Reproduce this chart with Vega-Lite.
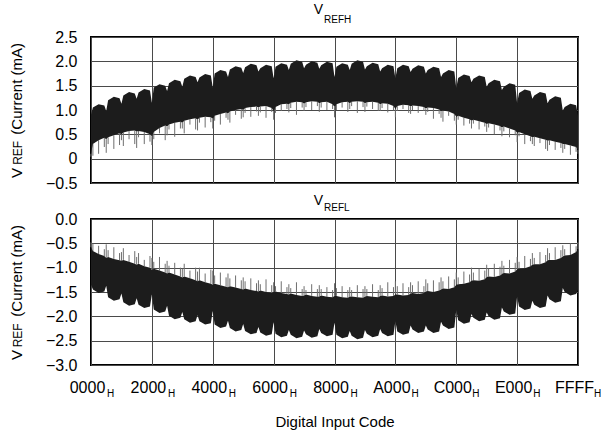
{
  "$schema": "https://vega.github.io/schema/vega-lite/v6.json",
  "background": "white",
  "padding": {"left": 8, "top": 1, "right": 0, "bottom": 0},
  "spacing": 1,
  "config": {
    "font": "Liberation Sans",
    "view": {"stroke": "#000000", "strokeWidth": 2},
    "axis": {
      "grid": true, "gridColor": "#4a4a4a", "gridWidth": 1, "gridOpacity": 1,
      "domain": false, "ticks": false, "labelOverlap": false,
      "labelFont": "Liberation Sans", "labelFontSize": 16, "labelColor": "#000000",
      "titleFont": "Liberation Sans", "titleFontSize": 15, "titleFontWeight": "normal", "titleColor": "#000000"
    },
    "title": {"font": "Liberation Sans", "fontSize": 14, "fontWeight": "normal", "color": "#000000", "frame": "group", "anchor": "middle"}
  },
  "datasets": {
    "vref": [
      {"code": 0, "hHi": 0.90, "hLo": 0.10, "hSpike": 0.04, "lHi": -0.58, "lLo": -1.35, "lSpike": -0.48},
      {"code": 256, "hHi": 1.05, "hLo": 0.30, "hSpike": 0.06, "lHi": -0.66, "lLo": -1.45, "lSpike": -0.50},
      {"code": 1024, "hHi": 1.12, "hLo": 0.38, "hSpike": 0.10, "lHi": -0.72, "lLo": -1.52, "lSpike": -0.55},
      {"code": 1792, "hHi": 1.09, "hLo": 0.43, "hSpike": 0.24, "lHi": -0.76, "lLo": -1.49, "lSpike": -0.62},
      {"code": 2048, "hHi": 0.98, "hLo": 0.40, "hSpike": 0.12, "lHi": -0.80, "lLo": -1.37, "lSpike": -0.52},
      {"code": 2304, "hHi": 1.20, "hLo": 0.44, "hSpike": 0.30, "lHi": -0.78, "lLo": -1.61, "lSpike": -0.64},
      {"code": 3072, "hHi": 1.27, "hLo": 0.48, "hSpike": 0.20, "lHi": -0.82, "lLo": -1.68, "lSpike": -0.58},
      {"code": 3840, "hHi": 1.24, "hLo": 0.52, "hSpike": 0.28, "lHi": -0.85, "lLo": -1.65, "lSpike": -0.70},
      {"code": 4096, "hHi": 1.13, "hLo": 0.50, "hSpike": 0.38, "lHi": -0.86, "lLo": -1.53, "lSpike": -0.68},
      {"code": 4352, "hHi": 1.30, "hLo": 0.54, "hSpike": 0.26, "lHi": -0.84, "lLo": -1.71, "lSpike": -0.60},
      {"code": 5120, "hHi": 1.37, "hLo": 0.57, "hSpike": 0.40, "lHi": -0.88, "lLo": -1.78, "lSpike": -0.74},
      {"code": 5888, "hHi": 1.34, "hLo": 0.58, "hSpike": 0.30, "lHi": -0.92, "lLo": -1.75, "lSpike": -0.66},
      {"code": 6144, "hHi": 1.23, "hLo": 0.56, "hSpike": 0.22, "lHi": -0.94, "lLo": -1.63, "lSpike": -0.78},
      {"code": 6400, "hHi": 1.36, "hLo": 0.57, "hSpike": 0.44, "lHi": -0.92, "lLo": -1.76, "lSpike": -0.70},
      {"code": 7168, "hHi": 1.43, "hLo": 0.55, "hSpike": 0.30, "lHi": -0.97, "lLo": -1.83, "lSpike": -0.84},
      {"code": 7936, "hHi": 1.40, "hLo": 0.50, "hSpike": 0.35, "lHi": -1.00, "lLo": -1.80, "lSpike": -0.76},
      {"code": 8192, "hHi": 1.15, "hLo": 0.46, "hSpike": 0.28, "lHi": -1.05, "lLo": -1.55, "lSpike": -0.80},
      {"code": 8448, "hHi": 1.46, "hLo": 0.55, "hSpike": 0.40, "lHi": -1.02, "lLo": -1.86, "lSpike": -0.88},
      {"code": 9216, "hHi": 1.53, "hLo": 0.63, "hSpike": 0.52, "lHi": -1.06, "lLo": -1.93, "lSpike": -0.78},
      {"code": 9984, "hHi": 1.50, "hLo": 0.68, "hSpike": 0.38, "lHi": -1.10, "lLo": -1.90, "lSpike": -0.92},
      {"code": 10240, "hHi": 1.39, "hLo": 0.66, "hSpike": 0.48, "lHi": -1.12, "lLo": -1.78, "lSpike": -0.86},
      {"code": 10496, "hHi": 1.55, "hLo": 0.70, "hSpike": 0.60, "lHi": -1.10, "lLo": -1.99, "lSpike": -0.96},
      {"code": 11264, "hHi": 1.62, "hLo": 0.74, "hSpike": 0.45, "lHi": -1.14, "lLo": -2.06, "lSpike": -0.90},
      {"code": 12032, "hHi": 1.59, "hLo": 0.76, "hSpike": 0.62, "lHi": -1.18, "lLo": -2.03, "lSpike": -1.00},
      {"code": 12288, "hHi": 1.48, "hLo": 0.74, "hSpike": 0.62, "lHi": -1.20, "lLo": -1.91, "lSpike": -1.02},
      {"code": 12544, "hHi": 1.64, "hLo": 0.78, "hSpike": 0.52, "lHi": -1.18, "lLo": -2.06, "lSpike": -0.92},
      {"code": 13312, "hHi": 1.71, "hLo": 0.81, "hSpike": 0.70, "lHi": -1.22, "lLo": -2.13, "lSpike": -1.06},
      {"code": 14080, "hHi": 1.68, "hLo": 0.83, "hSpike": 0.60, "lHi": -1.26, "lLo": -2.10, "lSpike": -1.00},
      {"code": 14336, "hHi": 1.57, "hLo": 0.80, "hSpike": 0.58, "lHi": -1.28, "lLo": -1.98, "lSpike": -1.08},
      {"code": 14592, "hHi": 1.67, "hLo": 0.84, "hSpike": 0.74, "lHi": -1.26, "lLo": -2.10, "lSpike": -1.00},
      {"code": 15360, "hHi": 1.74, "hLo": 0.86, "hSpike": 0.64, "lHi": -1.30, "lLo": -2.17, "lSpike": -1.12},
      {"code": 16128, "hHi": 1.71, "hLo": 0.85, "hSpike": 0.75, "lHi": -1.33, "lLo": -2.14, "lSpike": -1.04},
      {"code": 16384, "hHi": 1.46, "hLo": 0.82, "hSpike": 0.62, "lHi": -1.35, "lLo": -1.89, "lSpike": -1.06},
      {"code": 16640, "hHi": 1.75, "hLo": 0.88, "hSpike": 0.78, "lHi": -1.33, "lLo": -2.17, "lSpike": -1.16},
      {"code": 17408, "hHi": 1.82, "hLo": 0.92, "hSpike": 0.70, "lHi": -1.36, "lLo": -2.24, "lSpike": -1.10},
      {"code": 18176, "hHi": 1.79, "hLo": 0.95, "hSpike": 0.84, "lHi": -1.39, "lLo": -2.21, "lSpike": -1.20},
      {"code": 18432, "hHi": 1.68, "hLo": 0.93, "hSpike": 0.80, "lHi": -1.40, "lLo": -2.09, "lSpike": -1.12},
      {"code": 18688, "hHi": 1.83, "hLo": 0.97, "hSpike": 0.74, "lHi": -1.38, "lLo": -2.24, "lSpike": -1.22},
      {"code": 19456, "hHi": 1.90, "hLo": 1.00, "hSpike": 0.90, "lHi": -1.41, "lLo": -2.31, "lSpike": -1.16},
      {"code": 20224, "hHi": 1.87, "hLo": 1.02, "hSpike": 0.82, "lHi": -1.44, "lLo": -2.28, "lSpike": -1.26},
      {"code": 20480, "hHi": 1.76, "hLo": 1.00, "hSpike": 0.85, "lHi": -1.45, "lLo": -2.16, "lSpike": -1.20},
      {"code": 20736, "hHi": 1.88, "hLo": 1.04, "hSpike": 0.94, "lHi": -1.43, "lLo": -2.30, "lSpike": -1.28},
      {"code": 21504, "hHi": 1.95, "hLo": 1.06, "hSpike": 0.86, "lHi": -1.46, "lLo": -2.37, "lSpike": -1.22},
      {"code": 22272, "hHi": 1.92, "hLo": 1.07, "hSpike": 0.97, "lHi": -1.48, "lLo": -2.34, "lSpike": -1.32},
      {"code": 22528, "hHi": 1.79, "hLo": 1.05, "hSpike": 0.88, "lHi": -1.49, "lLo": -2.22, "lSpike": -1.26},
      {"code": 22784, "hHi": 1.86, "hLo": 1.07, "hSpike": 0.95, "lHi": -1.47, "lLo": -2.33, "lSpike": -1.34},
      {"code": 23552, "hHi": 1.93, "hLo": 1.08, "hSpike": 0.84, "lHi": -1.50, "lLo": -2.40, "lSpike": -1.24},
      {"code": 24320, "hHi": 1.90, "hLo": 1.04, "hSpike": 0.96, "lHi": -1.52, "lLo": -2.37, "lSpike": -1.36},
      {"code": 24576, "hHi": 1.65, "hLo": 0.98, "hSpike": 0.80, "lHi": -1.50, "lLo": -2.12, "lSpike": -1.30},
      {"code": 24832, "hHi": 1.89, "hLo": 1.06, "hSpike": 0.94, "lHi": -1.49, "lLo": -2.36, "lSpike": -1.38},
      {"code": 25600, "hHi": 1.96, "hLo": 1.12, "hSpike": 0.98, "lHi": -1.52, "lLo": -2.43, "lSpike": -1.28},
      {"code": 26368, "hHi": 1.93, "hLo": 1.13, "hSpike": 1.02, "lHi": -1.54, "lLo": -2.40, "lSpike": -1.40},
      {"code": 26624, "hHi": 1.82, "hLo": 1.12, "hSpike": 0.95, "lHi": -1.55, "lLo": -2.28, "lSpike": -1.34},
      {"code": 26880, "hHi": 1.95, "hLo": 1.15, "hSpike": 1.04, "lHi": -1.53, "lLo": -2.38, "lSpike": -1.42},
      {"code": 27648, "hHi": 2.02, "hLo": 1.17, "hSpike": 0.90, "lHi": -1.56, "lLo": -2.45, "lSpike": -1.30},
      {"code": 28416, "hHi": 1.99, "hLo": 1.16, "hSpike": 1.05, "lHi": -1.58, "lLo": -2.42, "lSpike": -1.44},
      {"code": 28672, "hHi": 1.86, "hLo": 1.13, "hSpike": 0.98, "lHi": -1.57, "lLo": -2.29, "lSpike": -1.38},
      {"code": 28928, "hHi": 1.93, "hLo": 1.16, "hSpike": 1.06, "lHi": -1.55, "lLo": -2.37, "lSpike": -1.46},
      {"code": 29696, "hHi": 2.00, "hLo": 1.18, "hSpike": 1.00, "lHi": -1.58, "lLo": -2.44, "lSpike": -1.34},
      {"code": 30464, "hHi": 1.97, "hLo": 1.17, "hSpike": 1.08, "lHi": -1.60, "lLo": -2.41, "lSpike": -1.44},
      {"code": 30720, "hHi": 1.85, "hLo": 1.14, "hSpike": 0.96, "lHi": -1.59, "lLo": -2.26, "lSpike": -1.36},
      {"code": 30976, "hHi": 1.92, "hLo": 1.16, "hSpike": 1.05, "lHi": -1.57, "lLo": -2.34, "lSpike": -1.44},
      {"code": 31744, "hHi": 1.99, "hLo": 1.17, "hSpike": 1.00, "lHi": -1.60, "lLo": -2.41, "lSpike": -1.40},
      {"code": 32512, "hHi": 1.96, "hLo": 1.12, "hSpike": 1.02, "lHi": -1.61, "lLo": -2.38, "lSpike": -1.46},
      {"code": 32768, "hHi": 1.68, "hLo": 1.06, "hSpike": 0.85, "lHi": -1.58, "lLo": -2.13, "lSpike": -1.32},
      {"code": 33024, "hHi": 1.89, "hLo": 1.12, "hSpike": 1.00, "lHi": -1.58, "lLo": -2.38, "lSpike": -1.42},
      {"code": 33792, "hHi": 1.96, "hLo": 1.16, "hSpike": 1.05, "lHi": -1.61, "lLo": -2.45, "lSpike": -1.38},
      {"code": 34560, "hHi": 1.93, "hLo": 1.17, "hSpike": 0.96, "lHi": -1.62, "lLo": -2.42, "lSpike": -1.46},
      {"code": 34816, "hHi": 1.82, "hLo": 1.14, "hSpike": 1.02, "lHi": -1.60, "lLo": -2.30, "lSpike": -1.40},
      {"code": 35072, "hHi": 1.95, "hLo": 1.17, "hSpike": 1.08, "lHi": -1.59, "lLo": -2.40, "lSpike": -1.46},
      {"code": 35840, "hHi": 2.02, "hLo": 1.18, "hSpike": 0.94, "lHi": -1.61, "lLo": -2.47, "lSpike": -1.36},
      {"code": 36608, "hHi": 1.99, "hLo": 1.17, "hSpike": 1.06, "lHi": -1.62, "lLo": -2.44, "lSpike": -1.44},
      {"code": 36864, "hHi": 1.83, "hLo": 1.14, "hSpike": 0.96, "lHi": -1.60, "lLo": -2.28, "lSpike": -1.38},
      {"code": 37120, "hHi": 1.90, "hLo": 1.16, "hSpike": 1.07, "lHi": -1.58, "lLo": -2.36, "lSpike": -1.44},
      {"code": 37888, "hHi": 1.97, "hLo": 1.17, "hSpike": 1.02, "lHi": -1.60, "lLo": -2.43, "lSpike": -1.34},
      {"code": 38656, "hHi": 1.94, "hLo": 1.15, "hSpike": 0.98, "lHi": -1.61, "lLo": -2.40, "lSpike": -1.46},
      {"code": 38912, "hHi": 1.79, "hLo": 1.12, "hSpike": 0.98, "lHi": -1.58, "lLo": -2.26, "lSpike": -1.36},
      {"code": 39168, "hHi": 1.86, "hLo": 1.14, "hSpike": 1.04, "lHi": -1.57, "lLo": -2.34, "lSpike": -1.42},
      {"code": 39936, "hHi": 1.93, "hLo": 1.13, "hSpike": 0.95, "lHi": -1.59, "lLo": -2.41, "lSpike": -1.30},
      {"code": 40704, "hHi": 1.90, "hLo": 1.08, "hSpike": 0.99, "lHi": -1.58, "lLo": -2.38, "lSpike": -1.40},
      {"code": 40960, "hHi": 1.65, "hLo": 1.02, "hSpike": 0.85, "lHi": -1.55, "lLo": -2.10, "lSpike": -1.28},
      {"code": 41216, "hHi": 1.86, "hLo": 1.08, "hSpike": 0.98, "lHi": -1.55, "lLo": -2.31, "lSpike": -1.38},
      {"code": 41984, "hHi": 1.93, "hLo": 1.11, "hSpike": 1.02, "lHi": -1.57, "lLo": -2.38, "lSpike": -1.32},
      {"code": 42752, "hHi": 1.90, "hLo": 1.10, "hSpike": 0.94, "lHi": -1.56, "lLo": -2.35, "lSpike": -1.40},
      {"code": 43008, "hHi": 1.78, "hLo": 1.07, "hSpike": 0.92, "lHi": -1.53, "lLo": -2.19, "lSpike": -1.30},
      {"code": 43264, "hHi": 1.85, "hLo": 1.09, "hSpike": 1.00, "lHi": -1.52, "lLo": -2.27, "lSpike": -1.36},
      {"code": 44032, "hHi": 1.92, "hLo": 1.08, "hSpike": 0.94, "lHi": -1.54, "lLo": -2.34, "lSpike": -1.28},
      {"code": 44800, "hHi": 1.89, "hLo": 1.06, "hSpike": 0.98, "lHi": -1.52, "lLo": -2.31, "lSpike": -1.38},
      {"code": 45056, "hHi": 1.75, "hLo": 1.03, "hSpike": 0.90, "lHi": -1.49, "lLo": -2.19, "lSpike": -1.24},
      {"code": 45312, "hHi": 1.82, "hLo": 1.05, "hSpike": 0.96, "lHi": -1.48, "lLo": -2.27, "lSpike": -1.32},
      {"code": 46080, "hHi": 1.89, "hLo": 1.04, "hSpike": 0.82, "lHi": -1.50, "lLo": -2.34, "lSpike": -1.26},
      {"code": 46848, "hHi": 1.86, "hLo": 1.01, "hSpike": 0.92, "lHi": -1.47, "lLo": -2.31, "lSpike": -1.30},
      {"code": 47104, "hHi": 1.68, "hLo": 0.98, "hSpike": 0.84, "lHi": -1.45, "lLo": -2.11, "lSpike": -1.20},
      {"code": 47360, "hHi": 1.75, "hLo": 0.99, "hSpike": 0.76, "lHi": -1.43, "lLo": -2.19, "lSpike": -1.28},
      {"code": 48128, "hHi": 1.82, "hLo": 0.97, "hSpike": 0.88, "lHi": -1.44, "lLo": -2.26, "lSpike": -1.18},
      {"code": 48896, "hHi": 1.79, "hLo": 0.92, "hSpike": 0.78, "lHi": -1.40, "lLo": -2.23, "lSpike": -1.24},
      {"code": 49152, "hHi": 1.45, "hLo": 0.86, "hSpike": 0.70, "lHi": -1.35, "lLo": -1.87, "lSpike": -1.10},
      {"code": 49408, "hHi": 1.66, "hLo": 0.88, "hSpike": 0.80, "lHi": -1.34, "lLo": -2.08, "lSpike": -1.20},
      {"code": 50176, "hHi": 1.73, "hLo": 0.84, "hSpike": 0.68, "lHi": -1.33, "lLo": -2.15, "lSpike": -1.08},
      {"code": 50944, "hHi": 1.70, "hLo": 0.81, "hSpike": 0.72, "lHi": -1.30, "lLo": -2.12, "lSpike": -1.14},
      {"code": 51200, "hHi": 1.57, "hLo": 0.78, "hSpike": 0.62, "lHi": -1.27, "lLo": -1.95, "lSpike": -1.00},
      {"code": 51456, "hHi": 1.64, "hLo": 0.80, "hSpike": 0.72, "lHi": -1.26, "lLo": -2.03, "lSpike": -1.10},
      {"code": 52224, "hHi": 1.71, "hLo": 0.77, "hSpike": 0.60, "lHi": -1.27, "lLo": -2.10, "lSpike": -1.02},
      {"code": 52992, "hHi": 1.68, "hLo": 0.74, "hSpike": 0.66, "lHi": -1.24, "lLo": -2.07, "lSpike": -1.06},
      {"code": 53248, "hHi": 1.48, "hLo": 0.71, "hSpike": 0.55, "lHi": -1.19, "lLo": -1.92, "lSpike": -0.94},
      {"code": 53504, "hHi": 1.55, "hLo": 0.73, "hSpike": 0.64, "lHi": -1.18, "lLo": -2.00, "lSpike": -1.02},
      {"code": 54272, "hHi": 1.62, "hLo": 0.70, "hSpike": 0.50, "lHi": -1.19, "lLo": -2.07, "lSpike": -0.92},
      {"code": 55040, "hHi": 1.59, "hLo": 0.67, "hSpike": 0.58, "lHi": -1.16, "lLo": -2.04, "lSpike": -0.98},
      {"code": 55296, "hHi": 1.41, "hLo": 0.64, "hSpike": 0.46, "lHi": -1.13, "lLo": -1.82, "lSpike": -0.86},
      {"code": 55552, "hHi": 1.48, "hLo": 0.66, "hSpike": 0.56, "lHi": -1.11, "lLo": -1.90, "lSpike": -0.96},
      {"code": 56320, "hHi": 1.55, "hLo": 0.62, "hSpike": 0.44, "lHi": -1.12, "lLo": -1.97, "lSpike": -0.84},
      {"code": 57088, "hHi": 1.52, "hLo": 0.58, "hSpike": 0.48, "lHi": -1.08, "lLo": -1.94, "lSpike": -0.90},
      {"code": 57344, "hHi": 1.14, "hLo": 0.53, "hSpike": 0.34, "lHi": -1.03, "lLo": -1.59, "lSpike": -0.78},
      {"code": 57600, "hHi": 1.35, "hLo": 0.55, "hSpike": 0.46, "lHi": -1.02, "lLo": -1.80, "lSpike": -0.88},
      {"code": 58368, "hHi": 1.42, "hLo": 0.50, "hSpike": 0.30, "lHi": -1.01, "lLo": -1.87, "lSpike": -0.76},
      {"code": 59136, "hHi": 1.39, "hLo": 0.46, "hSpike": 0.36, "lHi": -0.97, "lLo": -1.84, "lSpike": -0.82},
      {"code": 59392, "hHi": 1.23, "hLo": 0.44, "hSpike": 0.30, "lHi": -0.94, "lLo": -1.68, "lSpike": -0.70},
      {"code": 59648, "hHi": 1.30, "hLo": 0.45, "hSpike": 0.26, "lHi": -0.93, "lLo": -1.76, "lSpike": -0.80},
      {"code": 60416, "hHi": 1.37, "hLo": 0.42, "hSpike": 0.32, "lHi": -0.93, "lLo": -1.83, "lSpike": -0.68},
      {"code": 61184, "hHi": 1.34, "hLo": 0.39, "hSpike": 0.20, "lHi": -0.89, "lLo": -1.80, "lSpike": -0.74},
      {"code": 61440, "hHi": 1.14, "hLo": 0.37, "hSpike": 0.16, "lHi": -0.85, "lLo": -1.57, "lSpike": -0.60},
      {"code": 61696, "hHi": 1.21, "hLo": 0.38, "hSpike": 0.28, "lHi": -0.84, "lLo": -1.65, "lSpike": -0.70},
      {"code": 62464, "hHi": 1.28, "hLo": 0.35, "hSpike": 0.18, "lHi": -0.84, "lLo": -1.72, "lSpike": -0.58},
      {"code": 63232, "hHi": 1.25, "hLo": 0.32, "hSpike": 0.22, "lHi": -0.80, "lLo": -1.69, "lSpike": -0.64},
      {"code": 63488, "hHi": 0.99, "hLo": 0.30, "hSpike": 0.12, "lHi": -0.77, "lLo": -1.42, "lSpike": -0.54},
      {"code": 63744, "hHi": 1.06, "hLo": 0.30, "hSpike": 0.20, "lHi": -0.75, "lLo": -1.50, "lSpike": -0.62},
      {"code": 64512, "hHi": 1.13, "hLo": 0.27, "hSpike": 0.08, "lHi": -0.74, "lLo": -1.57, "lSpike": -0.50},
      {"code": 65280, "hHi": 1.10, "hLo": 0.24, "hSpike": 0.14, "lHi": -0.68, "lLo": -1.54, "lSpike": -0.56},
      {"code": 65535, "hHi": 0.88, "hLo": 0.18, "hSpike": 0.10, "lHi": -0.62, "lLo": -1.45, "lSpike": -0.48}
    ],
    "ticks": [
      {"code": 0}, {"code": 8192}, {"code": 16384}, {"code": 24576}, {"code": 32768},
      {"code": 40960}, {"code": 49152}, {"code": 57344}, {"code": 65535}
    ]
  },
  "vconcat": [
    {
      "width": 487,
      "height": 146,
      "title": {"text": "V", "dx": -16, "offset": -2},
      "data": {"name": "vref"},
      "layer": [
        {
          "mark": {"type": "rule", "color": "#6e6e6e", "strokeWidth": 1},
          "encoding": {
            "x": {"field": "code", "type": "quantitative", "scale": {"domain": [0, 65535], "nice": false, "zero": false},
                  "axis": {"values": [0, 8192, 16384, 24576, 32768, 40960, 49152, 57344, 65535], "tickCount": 20, "labels": false, "title": null}},
            "y": {"field": "hLo", "type": "quantitative", "scale": {"domain": [-0.5, 2.5], "nice": false, "zero": false},
                  "axis": {"values": [-0.5, 0, 0.5, 1, 1.5, 2, 2.5], "tickCount": 20, "format": ".1f", "labelExpr": "datum.value == 0 ? '0' : datum.label", "labelPadding": 14, "labelOverlap": false,
                           "title": "V\u00a0\u00a0\u00a0\u00a0\u00a0\u00a0\u00a0\u00a0(Current (mA)", "titlePadding": 21}},
            "y2": {"field": "hSpike"}
          }
        },
        {
          "mark": {"type": "area", "color": "#1c1c1c"},
          "encoding": {
            "x": {"field": "code", "type": "quantitative", "scale": {"domain": [0, 65535], "nice": false, "zero": false}},
            "y": {"field": "hHi", "type": "quantitative", "scale": {"domain": [-0.5, 2.5], "nice": false, "zero": false}},
            "y2": {"field": "hLo"}
          }
        },
        {
          "data": {"values": [{}]},
          "mark": {"type": "text", "text": "REF", "angle": 270, "fontSize": 12, "align": "center", "baseline": "alphabetic", "color": "#000000"},
          "encoding": {
            "x": {"datum": -9330, "type": "quantitative", "scale": {"domain": [0, 65535], "nice": false, "zero": false}},
            "y": {"datum": 0.12, "type": "quantitative", "scale": {"domain": [-0.5, 2.5], "nice": false, "zero": false}}
          }
        },
        {
          "data": {"values": [{}]},
          "mark": {"type": "text", "text": "REFH", "fontSize": 10, "align": "left", "baseline": "alphabetic", "dx": -10.5, "dy": -14.3, "color": "#000000"},
          "encoding": {
            "x": {"datum": 32768, "type": "quantitative", "scale": {"domain": [0, 65535], "nice": false, "zero": false}},
            "y": {"datum": 2.5, "type": "quantitative", "scale": {"domain": [-0.5, 2.5], "nice": false, "zero": false}}
          }
        }
      ]
    },
    {
      "width": 487,
      "height": 146,
      "title": {"text": "V", "dx": -16, "offset": -5},
      "data": {"name": "vref"},
      "layer": [
        {
          "mark": {"type": "rule", "color": "#6e6e6e", "strokeWidth": 1},
          "encoding": {
            "x": {"field": "code", "type": "quantitative", "scale": {"domain": [0, 65535], "nice": false, "zero": false},
                  "axis": {"values": [0, 8192, 16384, 24576, 32768, 40960, 49152, 57344, 65535], "tickCount": 20, "format": "04X", "labelFlush": false, "labelOverlap": false, "labelPadding": 14, "labelOffset": -4,
                           "title": "Digital Input Code", "titlePadding": 19}},
            "y": {"field": "lHi", "type": "quantitative", "scale": {"domain": [-3, 0], "nice": false, "zero": false},
                  "axis": {"values": [-3, -2.5, -2, -1.5, -1, -0.5, 0], "tickCount": 20, "format": ".1f", "labelPadding": 14, "labelOverlap": false,
                           "title": "V\u00a0\u00a0\u00a0\u00a0\u00a0\u00a0\u00a0\u00a0(Current (mA)", "titlePadding": 21}},
            "y2": {"field": "lSpike"}
          }
        },
        {
          "mark": {"type": "area", "color": "#1c1c1c"},
          "encoding": {
            "x": {"field": "code", "type": "quantitative", "scale": {"domain": [0, 65535], "nice": false, "zero": false}},
            "y": {"field": "lHi", "type": "quantitative", "scale": {"domain": [-3, 0], "nice": false, "zero": false}},
            "y2": {"field": "lLo"}
          }
        },
        {
          "data": {"values": [{}]},
          "mark": {"type": "text", "text": "REF", "angle": 270, "fontSize": 12, "align": "center", "baseline": "alphabetic", "color": "#000000"},
          "encoding": {
            "x": {"datum": -9330, "type": "quantitative", "scale": {"domain": [0, 65535], "nice": false, "zero": false}},
            "y": {"datum": -2.39, "type": "quantitative", "scale": {"domain": [-3, 0], "nice": false, "zero": false}}
          }
        },
        {
          "data": {"values": [{}]},
          "mark": {"type": "text", "text": "REFL", "fontSize": 10, "align": "left", "baseline": "alphabetic", "dx": -10.5, "dy": -8, "color": "#000000"},
          "encoding": {
            "x": {"datum": 32768, "type": "quantitative", "scale": {"domain": [0, 65535], "nice": false, "zero": false}},
            "y": {"datum": 0, "type": "quantitative", "scale": {"domain": [-3, 0], "nice": false, "zero": false}}
          }
        },
        {
          "data": {"name": "ticks"},
          "mark": {"type": "text", "text": "H", "fontSize": 10, "align": "left", "baseline": "alphabetic", "dx": 16, "dy": 32, "color": "#000000"},
          "encoding": {
            "x": {"field": "code", "type": "quantitative", "scale": {"domain": [0, 65535], "nice": false, "zero": false}},
            "y": {"datum": -3, "type": "quantitative", "scale": {"domain": [-3, 0], "nice": false, "zero": false}}
          }
        }
      ]
    }
  ]
}
